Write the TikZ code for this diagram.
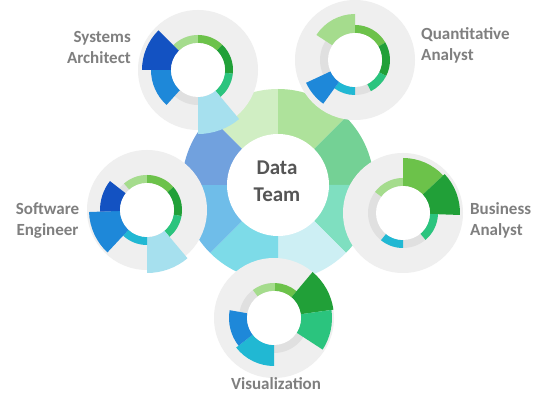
\documentclass[tikz,border=0pt]{standalone}
\usepackage{fontspec}
\setmainfont{Carlito}
% palette
\definecolor{diskgray}{HTML}{EFEFEF}
\definecolor{ringgray}{HTML}{E0E0E0}
\definecolor{lgreen}{HTML}{A5DC8D}
\definecolor{mgreen}{HTML}{6CC24A}
\definecolor{dgreen}{HTML}{21A038}
\definecolor{tealg}{HTML}{2BC47E}
\definecolor{cyanb}{HTML}{21B8D3}
\definecolor{mblue}{HTML}{1E88D9}
\definecolor{dblue}{HTML}{1352C2}
\definecolor{lblue}{HTML}{A6E0EE}
\definecolor{fA}{HTML}{D0EEC3}
\definecolor{fB}{HTML}{AEE29B}
\definecolor{fC}{HTML}{74D195}
\definecolor{fD}{HTML}{7FDFC0}
\definecolor{fE}{HTML}{CDEFF4}
\definecolor{fF}{HTML}{7DDBE8}
\definecolor{fG}{HTML}{6FBDE9}
\definecolor{fH}{HTML}{71A1DE}
\definecolor{labelgray}{HTML}{7F7F7F}
\definecolor{titlegray}{HTML}{555555}
% annular sector: start angle, end angle, inner radius, outer radius, colour
\newcommand\ringseg[5]{\fill[#5] (#1:#4) arc[start angle=#1,end angle=#2,radius=#4] -- (#2:#3) arc[start angle=#2,end angle=#1,radius=#3] -- cycle;}
% grey disc and grey inner ring of a role wheel
\newcommand\wheelbase{\fill[diskgray] (0,0) circle[radius=60]; \fill[ringgray] (0,0) circle[radius=35];}
\newcommand\wheelhole{\fill[white] (0,0) circle[radius=27];}
\begin{document}
\begin{tikzpicture}[x=1pt,y=-1pt,
  rolelabel/.style={font=\fontsize{17}{21}\selectfont\bfseries, text=labelgray, inner sep=0pt}]
\useasboundingbox (0,0) rectangle (558,401);
\fill[white] (0,0) rectangle (558,401);

% central flower
\coordinate (hub) at (278,185);
\begin{scope}[shift={(hub)}]
  \foreach \a/\c in {-135/fA,-90/fB,-45/fC,0/fD,45/fE,90/fF,135/fG,180/fH}
    {\fill[\c] (0,0) -- (\a:96) arc[start angle=\a,end angle=\a+45,radius=96] -- cycle;}
  \fill[white] (0,0) circle[radius=51];
\end{scope}
\node[font=\fontsize{21}{27}\selectfont\bfseries, text=titlegray, align=center, inner sep=0pt] (team) at (277,181) {Data\\Team};

% Systems Architect wheel
\coordinate (sa) at (198,70);
\begin{scope}[shift={(sa)}]
  \wheelbase
  \ringseg{-135}{-90}{27}{35}{lgreen}
  \ringseg{-90}{-46}{27}{35}{mgreen}
  \ringseg{-46}{6}{27}{35}{dgreen}
  \ringseg{6}{50}{27}{35}{tealg}
  \ringseg{50}{90}{27}{64}{lblue}
  \ringseg{132}{180}{27}{47}{mblue}
  \ringseg{180}{225}{27}{56}{dblue}
  \wheelhole
\end{scope}

% Quantitative Analyst wheel
\coordinate (qa) at (355,60);
\begin{scope}[shift={(qa)}]
  \wheelbase
  \ringseg{-147}{-90}{27}{46}{lgreen}
  \ringseg{-90}{-30}{27}{35}{mgreen}
  \ringseg{-30}{27}{27}{35}{dgreen}
  \ringseg{27}{63}{27}{35}{tealg}
  \ringseg{90}{126}{27}{35}{cyanb}
  \ringseg{126}{155}{27}{54}{mblue}
  \wheelhole
\end{scope}

% Business Analyst wheel
\coordinate (ba) at (403,213);
\begin{scope}[shift={(ba)}]
  \wheelbase
  \ringseg{-143}{-90}{27}{35}{lgreen}
  \ringseg{-90}{-43}{27}{55}{mgreen}
  \ringseg{-43}{2}{27}{57}{dgreen}
  \ringseg{2}{50}{27}{35}{tealg}
  \ringseg{90}{129}{27}{35}{cyanb}
  \wheelhole
\end{scope}

% Visualization wheel
\coordinate (vz) at (274,318);
\begin{scope}[shift={(vz)}]
  \wheelbase
  \ringseg{-127}{-88}{27}{35}{lgreen}
  \ringseg{-88}{-50}{27}{35}{mgreen}
  \ringseg{-50}{-8}{27}{60}{dgreen}
  \ringseg{-8}{33}{27}{58}{tealg}
  \ringseg{90}{142}{27}{48}{cyanb}
  \ringseg{142}{190}{27}{45}{mblue}
  \wheelhole
\end{scope}

% Software Engineer wheel
\coordinate (se) at (147,210);
\begin{scope}[shift={(se)}]
  \wheelbase
  \ringseg{-131}{-90}{27}{35}{lgreen}
  \ringseg{-90}{-41}{27}{35}{mgreen}
  \ringseg{-41}{10}{27}{35}{dgreen}
  \ringseg{10}{50}{27}{35}{tealg}
  \ringseg{50}{90}{27}{63}{lblue}
  \ringseg{90}{133}{27}{35}{cyanb}
  \ringseg{133}{178}{27}{58}{mblue}
  \ringseg{178}{218}{27}{47}{dblue}
  \wheelhole
\end{scope}

% role labels
\node[rolelabel, anchor=east, align=right] (saL) at (131,47) {Systems\\Architect};
\node[rolelabel, anchor=west, align=left] (qaL) at (421,45) {Quantitative\\Analyst};
\node[rolelabel, anchor=west, align=left] (baL) at (470,220) {Business\\Analyst};
\node[rolelabel, align=center] (seL) at (47.5,221) {Software\\Engineer};
\node[rolelabel, align=center] (vzL) at (276,384) {Visualization};
\end{tikzpicture}
\end{document}
